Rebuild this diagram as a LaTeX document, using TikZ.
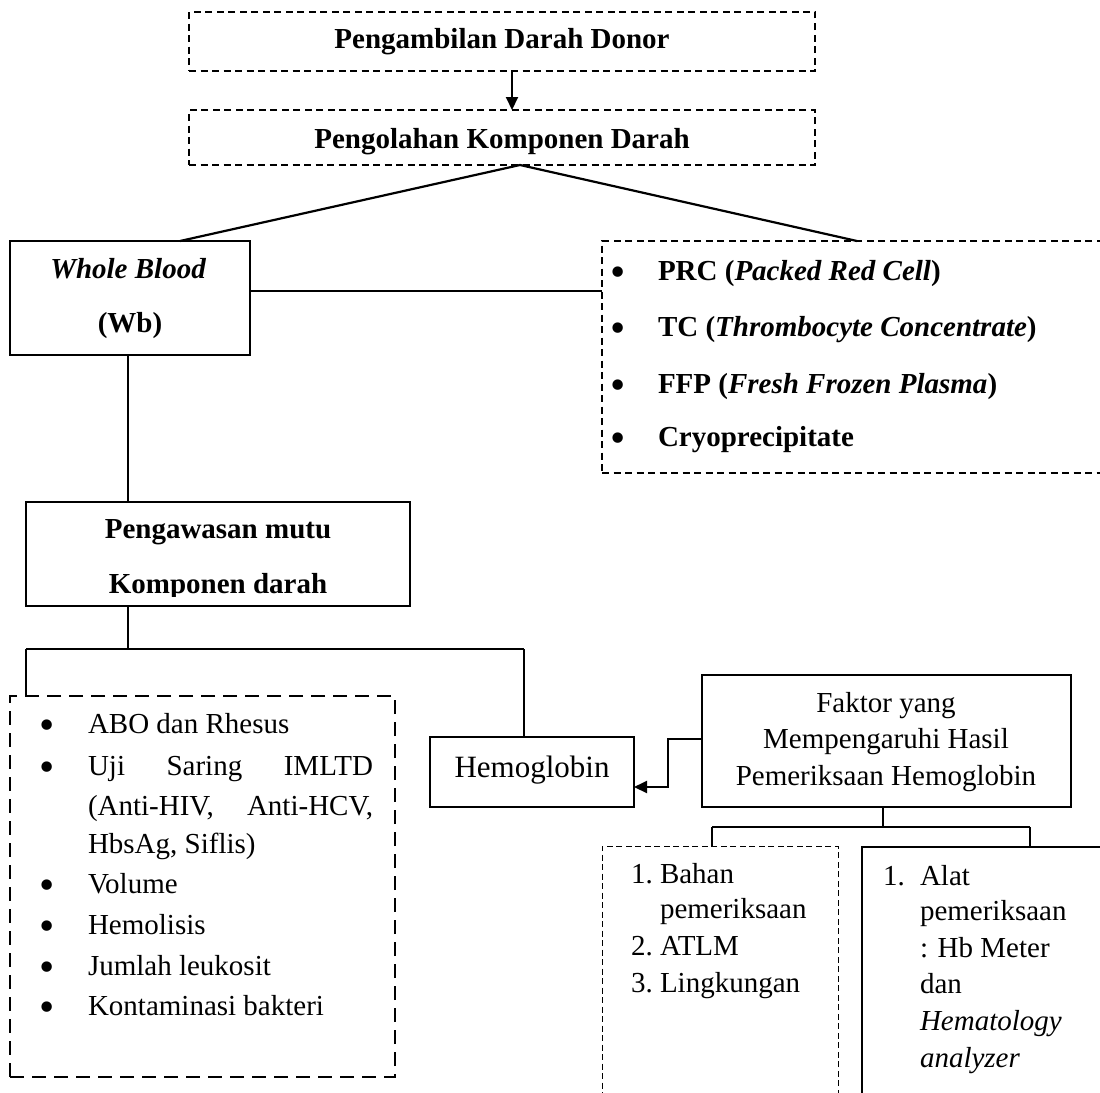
\documentclass[tikz,border=0pt]{standalone}
\usepackage{fontspec}
\setmainfont{Liberation Serif}
\usetikzlibrary{arrows.meta,calc}
\newcommand\fsz{\fontsize{29}{35}\selectfont}
\newcommand\mybul{\raisebox{-6.5pt}{\scalebox{1.5}{•}}}
\tikzset{
  boxbase/.style={draw, inner sep=0pt, outer sep=0pt, rectangle},
  solidbox/.style={boxbase, line width=2pt},
  topdash/.style={boxbase, line width=1.6pt, dash pattern=on 7pt off 4.5pt},
  bigdash/.style={boxbase, line width=2pt, dash pattern=on 14pt off 8pt},
  thindash/.style={boxbase, line width=1pt, dash pattern=on 6pt off 3.5pt},
  txt/.style={inner sep=0pt, outer sep=0pt, font=\fsz, anchor=base},
  txtw/.style={txt, anchor=base west},
  thick2/.style={line width=2.2pt},
  thin1/.style={line width=1.2pt},
  arr/.style={line width=2pt, -{Triangle[length=13pt,width=12pt]}}
}
\begin{document}
\begin{tikzpicture}[x=1pt,y=-1pt]
\useasboundingbox (0,0) rectangle (1100,1092);
% top boxes
\node[topdash, minimum width=626pt, minimum height=59pt] (b1) at (502,41.5) {};
\node[txt] (t1) at (502,48) {\bfseries Pengambilan Darah Donor};
\node[topdash, minimum width=626pt, minimum height=55pt] (b2) at (502,137.5) {};
\node[txt] (t2) at (502,148) {\bfseries Pengolahan Komponen Darah};
\draw[arr] (b1.south -| 512,0) -- (b2.north -| 512,0);
\coordinate (apex) at (520,165);
% whole blood
\node[solidbox, minimum width=240pt, minimum height=114pt] (wb) at (130,298) {};
\node[txt] (wb1) at (128,278) {\bfseries\itshape Whole Blood};
\node[txt] (wb2) at (130,332) {\bfseries (Wb)};
% PRC box
\node[topdash, minimum width=520pt, minimum height=232pt, anchor=north west] (prc) at (602,241) {};
\foreach \y/\t [count=\i] in {280/{PRC (\textit{Packed Red Cell})},336/{TC (\textit{Thrombocyte Concentrate})},393/{FFP (\textit{Fresh Frozen Plasma})},446/{Cryoprecipitate}}{
  \node[txt] (pb\i) at (618,\y) {\mybul};
  \node[txtw] (pt\i) at (658,\y) {\bfseries \t};
}
\draw[thick2] (apex) -- (wb.north -| 180,0);
\draw[thick2] (apex) -- (prc.north -| 857,0);
\draw[line width=1.5pt] (wb.east |- 0,291) -- (prc.west |- 0,291);
% pengawasan
\node[solidbox, minimum width=384pt, minimum height=104pt] (pm) at (218,554) {};
\node[txt, font=\fsz\bfseries] (pm1) at (218,538) {Pengawasan mutu};
\begin{scope}
\clip (27,503) rectangle (409,596);
\node[txt, font=\fsz\bfseries] (pm2) at (218,593) {Komponen darah};
\end{scope}
\draw[line width=1.5pt] (wb.south -| 128,0) -- (pm.north -| 128,0);
% left list box
\node[bigdash, minimum width=385pt, minimum height=381pt, anchor=north west] (lb) at (10,696) {};
\node[txt] (lb1) at (47,733) {\mybul};
\node[txtw] (lt1) at (88,733) {ABO dan Rhesus};
\node[txt] (lb2) at (47,775) {\mybul};
\node[txtw] (lt2) at (88,775) {\makebox[285pt][s]{Uji Saring IMLTD}};
\node[txtw] (lt2b) at (88,815) {\makebox[285pt][s]{(Anti-HIV, Anti-HCV,}};
\node[txtw] (lt2c) at (88,853) {HbsAg, Siflis)};
\node[txt] (lb3) at (47,893) {\mybul};
\node[txtw] (lt3) at (88,893) {Volume};
\node[txt] (lb4) at (47,934) {\mybul};
\node[txtw] (lt4) at (88,934) {Hemolisis};
\node[txt] (lb5) at (47,975) {\mybul};
\node[txtw] (lt5) at (88,975) {Jumlah leukosit};
\node[txt] (lb6) at (47,1015) {\mybul};
\node[txtw] (lt6) at (88,1015) {Kontaminasi bakteri};
% hemoglobin
\node[solidbox, minimum width=204pt, minimum height=70pt] (hb) at (532,772) {};
\node[txt, font=\fontsize{31}{36}\selectfont] (hbt) at (532,777) {Hemoglobin};
% connectors from pengawasan
\coordinate (jl) at (26,649);
\coordinate (jr) at (524,649);
\draw[thin1] (pm.south -| 128,0) -- (128,649);
\draw[thin1] (jl) -- (jr);
\draw[thin1] (jl) -- (lb.north -| jl);
\draw[thin1] (jr) -- (hb.north -| jr);
% faktor
\node[solidbox, minimum width=369pt, minimum height=132pt] (fk) at (886.5,741) {};
\node[txt] (fk1) at (886,712) {Faktor yang};
\node[txt] (fk2) at (886,748) {Mempengaruhi Hasil};
\node[txt] (fk3) at (886,785) {Pemeriksaan Hemoglobin};
\draw[arr] (fk.west |- 0,739) -- (668,739) -- (668,787) -- (hb.east |- 0,787);
% bottom boxes
\node[thindash, minimum width=236pt, minimum height=270pt, anchor=north west] (bb) at (602,846) {};
\node[solidbox, line width=1.5pt, minimum width=260pt, minimum height=270pt, anchor=north west] (bc) at (862,847) {};
\coordinate (kl) at (712,827);
\coordinate (kr) at (1030,827);
\draw[thin1] (fk.south -| 883,0) -- (883,827);
\draw[thin1] (kl) -- (kr);
\draw[thin1] (kl) -- (bb.north -| kl);
\draw[thin1] (kr) -- (bc.north -| kr);
% list B
\node[txtw] (bn1) at (631,883) {1.};
\node[txtw] (bt1) at (660,883) {Bahan};
\node[txtw] (bt1b) at (660,918) {pemeriksaan};
\node[txtw] (bn2) at (631,955) {2.};
\node[txtw] (bt2) at (660,955) {ATLM};
\node[txtw] (bn3) at (631,992) {3.};
\node[txtw] (bt3) at (660,992) {Lingkungan};
% list C
\node[txtw] (cn1) at (883,885) {1.};
\node[txtw] (ct1) at (920,885) {Alat};
\node[txtw] (ct2) at (920,920) {pemeriksaan};
\node[txtw] (ct3) at (920,957) {: Hb Meter};
\node[txtw] (ct4) at (920,993) {dan};
\node[txtw] (ct5) at (920,1030) {\itshape Hematology};
\node[txtw] (ct6) at (920,1067) {\itshape analyzer};
\end{tikzpicture}
\end{document}
